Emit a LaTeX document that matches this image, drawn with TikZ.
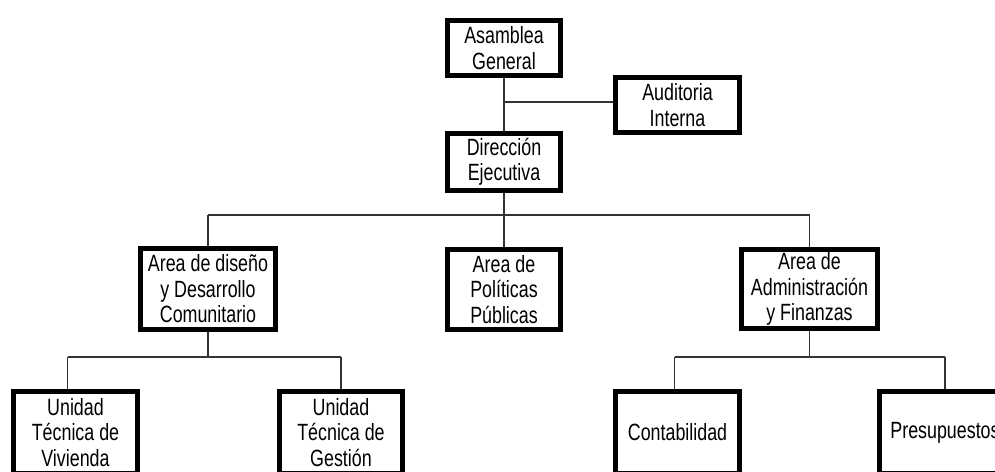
\documentclass[tikz,border=0pt]{standalone}
\usepackage{fontspec}
\setmainfont{Liberation Sans}[FakeStretch=0.76]

\tikzset{
  caja/.style={draw, line width=5pt, align=center, inner sep=0pt, font=\fontsize{23.5}{25.5}\selectfont},
  linea/.style={line width=1.3pt, draw=black!80},
}

\begin{document}
\begin{tikzpicture}[x=1pt, y=-1pt]
  \clip (0,0) rectangle (995,471);
  % direccion
  \node[caja, minimum width=113, minimum height=55] (asamblea) at (504,48) {Asamblea\\General};
  \node[caja, minimum width=124, minimum height=55] (auditoria) at (677.5,105) {Auditoria\\Interna};
  \node[caja, minimum width=113, minimum height=57] (direccion) at (504,162) {Dirección\\Ejecutiva};
  % areas
  \node[caja, minimum width=135, minimum height=81] (diseno) at (208,289) {Area de diseño\\y Desarrollo\\Comunitario};
  \node[caja, minimum width=113, minimum height=80] (politicas) at (504,289.5) {Area de\\Políticas\\Públicas};
  \node[caja, minimum width=136, minimum height=79] (admin) at (809.5,289) {Area de\\Administración\\y Finanzas};
  % unidades
  \node[caja, minimum width=124, minimum height=82] (vivienda) at (75.5,432.5) {Unidad\\Técnica de\\Vivienda};
  \node[caja, minimum width=123, minimum height=82] (gestion) at (341,432.5) {Unidad\\Técnica de\\Gestión};
  \node[caja, minimum width=124, minimum height=82] (contab) at (677.5,432.5) {Contabilidad};
  \node[caja, minimum width=131, minimum height=82] (presup) at (945,432.5) {Presupuestos};

  \coordinate (audin) at ([yshift=3pt]auditoria.west);
  \coordinate (bus1) at (504,215);
  \coordinate (bus2) at (208,357);
  \coordinate (bus3) at (809.5,357);

  \draw[linea] (asamblea) -- (direccion);
  \draw[linea] (asamblea.south |- audin) -- (audin);
  \draw[linea] (direccion) -- (politicas);
  \draw[linea] (diseno.north |- bus1) -- (admin.north |- bus1);
  \draw[linea] (diseno.north |- bus1) -- (diseno.north);
  \draw[linea] (admin.north |- bus1) -- (admin.north);

  \draw[linea] (diseno.south) -- (bus2);
  \draw[linea] ([xshift=-8pt]vivienda.north |- bus2) -- (gestion.north |- bus2);
  \draw[linea] ([xshift=-8pt]vivienda.north |- bus2) -- ([xshift=-8pt]vivienda.north);
  \draw[linea] (gestion.north |- bus2) -- (gestion.north);

  \draw[linea] (admin.south) -- (bus3);
  \draw[linea] ([xshift=-3pt]contab.north |- bus3) -- (presup.north |- bus3);
  \draw[linea] ([xshift=-3pt]contab.north |- bus3) -- ([xshift=-3pt]contab.north);
  \draw[linea] (presup.north |- bus3) -- (presup.north);
\end{tikzpicture}
\end{document}
